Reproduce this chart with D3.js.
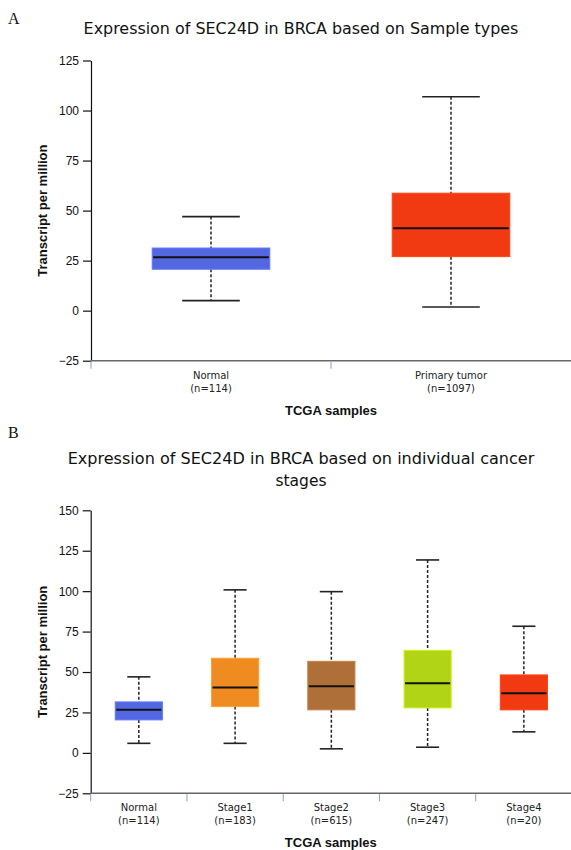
<!DOCTYPE html>
<html>
<head>
<meta charset="utf-8">
<script src="https://cdn.jsdelivr.net/npm/d3@7"></script>
<style>
  body { margin: 0; background: #fff; }
  svg { display: block; }
</style>
</head>
<body>
<svg id="chart" width="571" height="850"></svg>
<script>
// ---------- Data ----------
const categoriesA = ["Normal", "Primary tumor"];
const countsA = ["(n=114)", "(n=1097)"];
const minA = [5, 1.8];
const q1A = [20.7, 27];
const medianA = [26.7, 41.2];
const q3A = [31.3, 58.7];
const maxA = [47, 106.9];
const colorsA = ["#5367E1", "#F23A12"];
const yTicksA = [-25, 0, 25, 50, 75, 100, 125];

const categoriesB = ["Normal", "Stage1", "Stage2", "Stage3", "Stage4"];
const countsB = ["(n=114)", "(n=183)", "(n=615)", "(n=247)", "(n=20)"];
const minB = [5.9, 5.9, 2.5, 3.5, 13];
const q1B = [20.4, 28.6, 26.6, 27.8, 26.6];
const medianB = [26.6, 40.4, 41.2, 43, 36.9];
const q3B = [31.5, 58.5, 56.6, 63.4, 48.2];
const maxB = [47, 100.8, 99.7, 119.3, 78.3];
const colorsB = ["#5367E1", "#F08B22", "#AE6F38", "#B2D416", "#F23A12"];
const yTicksB = [-25, 0, 25, 50, 75, 100, 125, 150];

const titleA = ["Expression of SEC24D in BRCA based on Sample types"];
const titleB = ["Expression of SEC24D in BRCA based on individual cancer", "stages"];
const yLabel = "Transcript per million";
const xLabel = "TCGA samples";

const svg = d3.select("#chart");

function fitText(sel, target) {
  const w = sel.node().getComputedTextLength();
  const fs = parseFloat(sel.attr("font-size"));
  sel.attr("font-size", (fs * target / w).toFixed(2));
}

function panel(cfg) {
  const g = svg.append("g");
  const y = d3.scaleLinear().domain(cfg.yDomain).range(cfg.yRange);
  const x = d3.scaleBand().domain(cfg.cats).range(cfg.xRange).padding(0);
  const bw = x.bandwidth();
  const axisY = cfg.yRange[0];

  // panel letter
  g.append("text").attr("x", 8).attr("y", cfg.letterY)
    .attr("font-family", "Liberation Serif, serif").attr("font-size", 16)
    .attr("fill", "#111").text(cfg.letter);

  // title
  cfg.title.forEach((t, i) => {
    const tt = g.append("text").attr("x", 301).attr("y", cfg.titleY[i])
      .attr("text-anchor", "middle")
      .attr("font-family", "DejaVu Sans, sans-serif").attr("font-size", 16)
      .attr("fill", "#111").text(t);
    if (cfg.titleW[i]) fitText(tt, cfg.titleW[i]);
    else tt.attr("font-size", cfg.titleFs);
  });

  // y axis
  const ya = g.append("g").attr("transform", `translate(${cfg.xRange[0]},0)`)
    .call(d3.axisLeft(y).tickValues(cfg.yTicks).tickSize(8).tickSizeOuter(0).tickPadding(4));
  ya.select(".domain").attr("stroke", "#111").attr("stroke-width", 1.2);
  ya.selectAll(".tick line").attr("stroke", "#111").attr("stroke-width", 1.2);
  ya.selectAll(".tick text").attr("font-family", "Liberation Sans, Arial, sans-serif")
    .attr("font-size", 12).attr("fill", "#111");

  // y label
  g.append("text")
    .attr("transform", `translate(46.5,${(cfg.yRange[0] + cfg.yRange[1]) / 2}) rotate(-90)`)
    .attr("text-anchor", "middle")
    .attr("font-family", "Liberation Sans, Arial, sans-serif").attr("font-size", 13)
    .attr("font-weight", "bold").attr("fill", "#111").text(yLabel);

  // x axis line
  g.append("line").attr("x1", cfg.xRange[0]).attr("x2", 571)
    .attr("y1", axisY).attr("y2", axisY)
    .attr("stroke", "#666").attr("stroke-width", 1.5);
  // blue separators
  g.selectAll(".sep").data(cfg.cats).join("line")
    .attr("x1", d => x(d)).attr("x2", d => x(d))
    .attr("y1", axisY + 0.8).attr("y2", axisY + 8)
    .attr("stroke", "#7FA3D6").attr("stroke-width", 1);

  // category labels
  g.selectAll(".cl1").data(cfg.cats).join("text")
    .attr("x", d => x(d) + bw / 2).attr("y", axisY + 18)
    .attr("text-anchor", "middle")
    .attr("font-family", "DejaVu Sans, sans-serif").attr("font-size", 10)
    .attr("fill", "#222").text(d => d);
  g.selectAll(".cl2").data(cfg.counts).join("text")
    .attr("x", (d, i) => x(cfg.cats[i]) + bw / 2).attr("y", axisY + 31)
    .attr("text-anchor", "middle")
    .attr("font-family", "DejaVu Sans, sans-serif").attr("font-size", 10)
    .attr("fill", "#222").text(d => d);

  // x label
  g.append("text").attr("x", (cfg.xRange[0] + 571) / 2).attr("y", axisY + 54)
    .attr("text-anchor", "middle")
    .attr("font-family", "Liberation Sans, Arial, sans-serif").attr("font-size", 13)
    .attr("font-weight", "bold").attr("fill", "#111").text(xLabel);

  // boxes
  const boxW = bw * 0.49, capW = bw * 0.24;
  const items = cfg.cats.map((c, i) => ({
    c, min: cfg.min[i], q1: cfg.q1[i], med: cfg.med[i], q3: cfg.q3[i], max: cfg.max[i], col: cfg.colors[i]
  }));
  const bg = g.selectAll(".box").data(items).join("g")
    .attr("transform", d => `translate(${x(d.c) + bw / 2},0)`);
  bg.append("line").attr("x1", 0).attr("x2", 0)
    .attr("y1", d => y(d.max)).attr("y2", d => y(d.q3))
    .attr("stroke", "#222").attr("stroke-width", 1.5).attr("stroke-dasharray", "3,2");
  bg.append("line").attr("x1", 0).attr("x2", 0)
    .attr("y1", d => y(d.q1)).attr("y2", d => y(d.min))
    .attr("stroke", "#222").attr("stroke-width", 1.5).attr("stroke-dasharray", "3,2");
  bg.append("line").attr("x1", -capW / 2).attr("x2", capW / 2)
    .attr("y1", d => y(d.max)).attr("y2", d => y(d.max))
    .attr("stroke", "#222").attr("stroke-width", 1.6);
  bg.append("line").attr("x1", -capW / 2).attr("x2", capW / 2)
    .attr("y1", d => y(d.min)).attr("y2", d => y(d.min))
    .attr("stroke", "#222").attr("stroke-width", 1.6);
  bg.append("rect").attr("x", -boxW / 2).attr("width", boxW)
    .attr("y", d => y(d.q3)).attr("height", d => y(d.q1) - y(d.q3))
    .attr("fill", d => d.col)
    .attr("stroke", d => d3.color(d.col).brighter(0.4)).attr("stroke-width", 1);
  bg.append("line").attr("x1", -boxW / 2 + 1).attr("x2", boxW / 2 - 1)
    .attr("y1", d => y(d.med)).attr("y2", d => y(d.med))
    .attr("stroke", "#111").attr("stroke-width", 2);
}

panel({
  letter: "A", letterY: 24,
  title: titleA, titleY: [34], titleW: [435],
  cats: categoriesA, counts: countsA,
  min: minA, q1: q1A, med: medianA, q3: q3A, max: maxA, colors: colorsA,
  yDomain: [-25, 125], yRange: [360.7, 60.5], yTicks: yTicksA,
  xRange: [91, 571]
});

panel({
  letter: "B", letterY: 438,
  title: titleB, titleY: [464, 485.5], titleW: [467, 0], titleFs: 15.5,
  cats: categoriesB, counts: countsB,
  min: minB, q1: q1B, med: medianB, q3: q3B, max: maxB, colors: colorsB,
  yDomain: [-25, 150], yRange: [793.3, 510.3], yTicks: yTicksB,
  xRange: [90.7, 572]
});
</script>
</body>
</html>
